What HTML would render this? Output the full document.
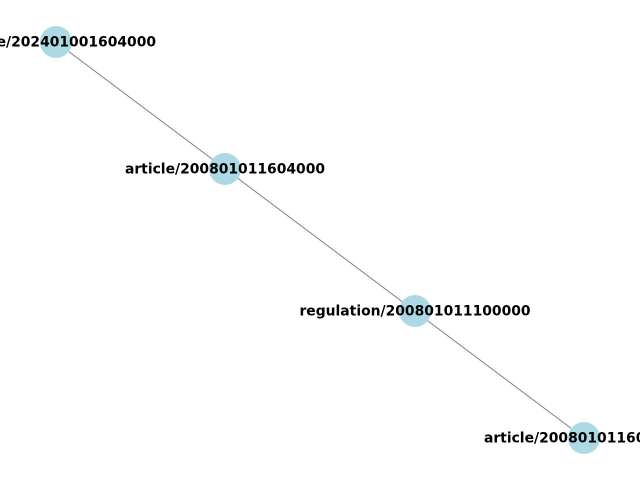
<!DOCTYPE html>
<html><head><style>html,body{margin:0;padding:0;background:#fff;}</style></head>
<body>
<svg width="640" height="480" xmlns="http://www.w3.org/2000/svg" style="display:block">
<line x1="56" y1="42" x2="584" y2="438" stroke="#808080" stroke-width="1"/>
<g fill="#add8e6">
<circle cx="56" cy="42" r="16"/>
<circle cx="225" cy="169" r="16"/>
<circle cx="415" cy="311" r="16"/>
<circle cx="584" cy="438" r="16"/>
</g>
<g font-family="DejaVu Sans, sans-serif" font-size="13.9" font-weight="bold" text-anchor="middle" fill="#000">
<text x="56" y="46.5">article/202401001604000</text>
<text x="225" y="173.5">article/200801011604000</text>
<text x="415" y="315.5">regulation/200801011100000</text>
<text x="584" y="442.5">article/200801011604000</text>
</g>
</svg>
</body></html>
